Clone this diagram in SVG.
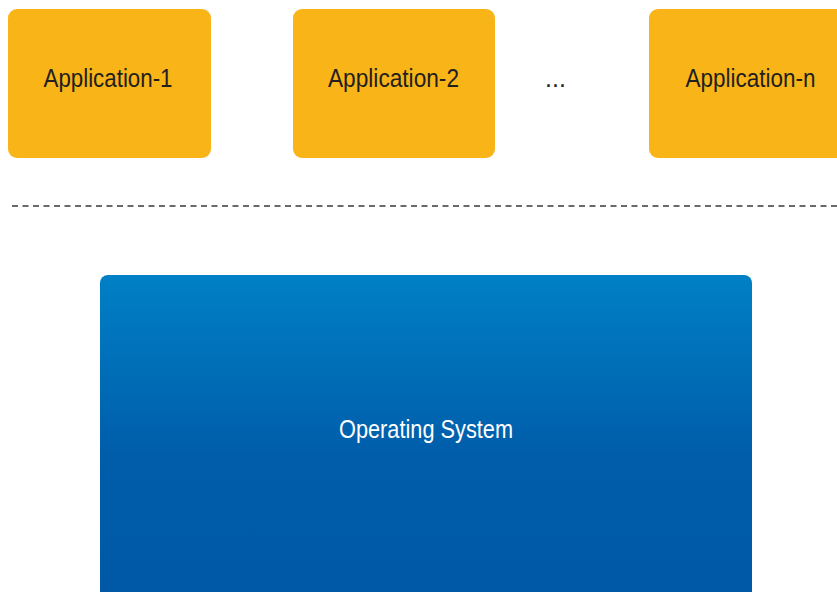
<svg xmlns="http://www.w3.org/2000/svg" width="837" height="592" viewBox="0 0 837 592">
<style>
.app{fill:#F9B418}
.lbl{font-family:"Liberation Sans",Arial,sans-serif;font-size:25px;fill:#231F20;text-anchor:middle;dominant-baseline:central}
.os{font-family:"Liberation Sans",Arial,sans-serif;font-size:25px;fill:#FFFFFF;text-anchor:middle;dominant-baseline:central}
.sep{stroke:#3a3a3a;stroke-width:1.3;stroke-dasharray:6 4.5;fill:none}
</style>
<defs>
<linearGradient id="osg" x1="0" y1="0" x2="0" y2="1">
<stop offset="0" stop-color="#0080C6"/>
<stop offset="0.55" stop-color="#005DAA"/>
<stop offset="1" stop-color="#0058A6"/>
</linearGradient>
</defs>
<rect width="837" height="592" fill="#FFFFFF"/>
<g id="app1">
<rect class="app" x="8" y="9" width="203" height="149" rx="9"/>
<text class="lbl" x="108" y="78" textLength="129" lengthAdjust="spacingAndGlyphs">Application-1</text>
</g>
<g id="app2">
<rect class="app" x="293" y="9" width="202" height="149" rx="9"/>
<text class="lbl" x="393.5" y="78" textLength="131" lengthAdjust="spacingAndGlyphs">Application-2</text>
</g>
<g id="dots">
<text class="lbl" x="555.5" y="78">...</text>
</g>
<g id="appn">
<rect class="app" x="649" y="9" width="200" height="149" rx="9"/>
<text class="lbl" x="750.5" y="78" textLength="130" lengthAdjust="spacingAndGlyphs">Application-n</text>
</g>
<g id="connectors">
<line class="sep" x1="12" y1="206" x2="837" y2="206"/>
</g>
<g id="os">
<rect x="100" y="275" width="652" height="330" rx="8" fill="url(#osg)"/>
<text class="os" x="426" y="429" textLength="174" lengthAdjust="spacingAndGlyphs">Operating System</text>
</g>
</svg>
